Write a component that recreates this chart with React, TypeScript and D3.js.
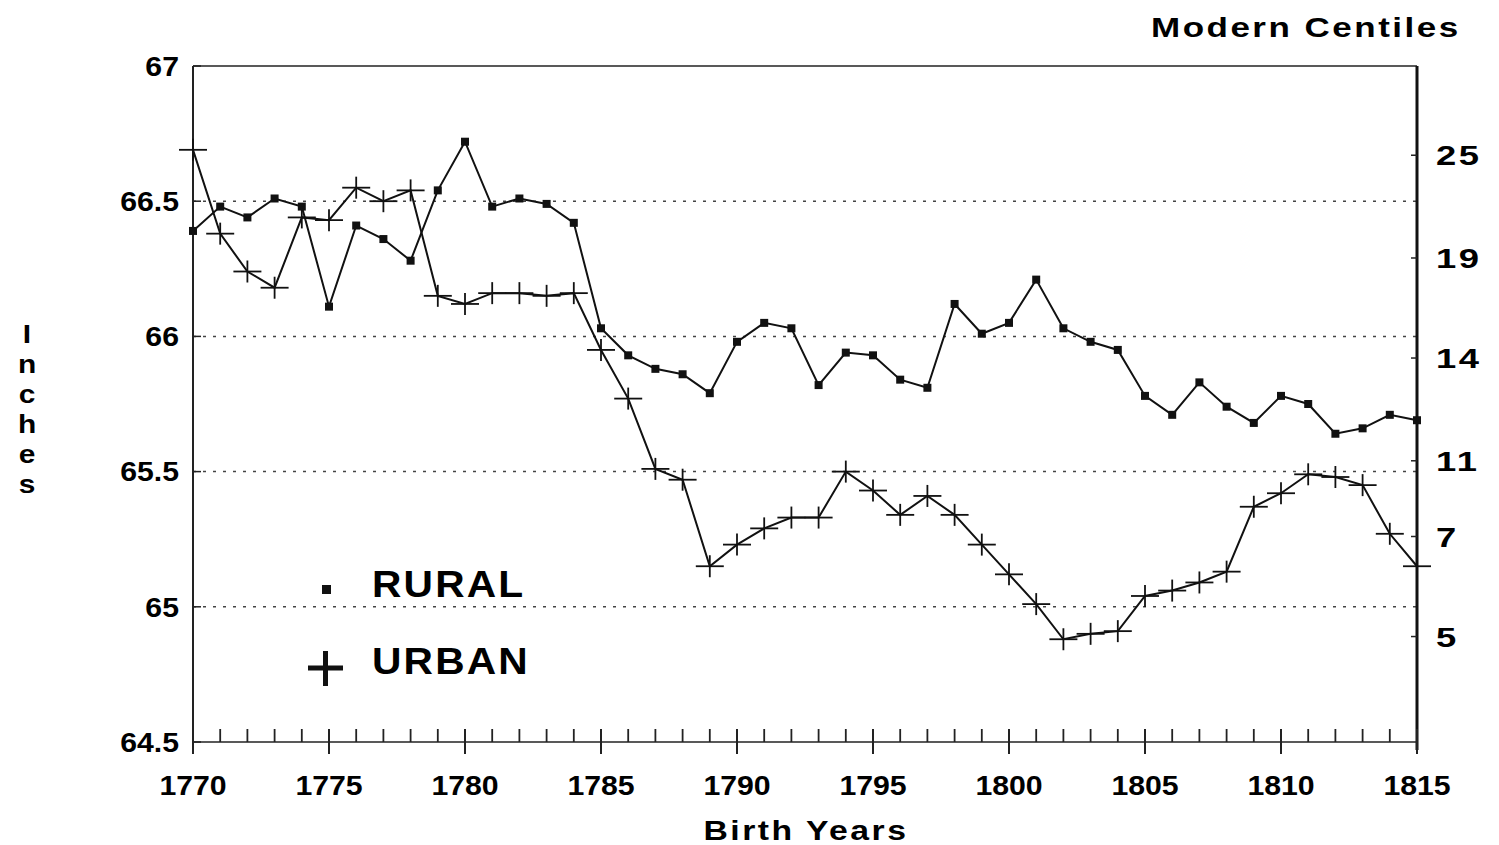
import React from 'react';
import * as d3 from 'd3';

// birth years and mean heights (inches)
const years = d3.range(1770, 1816);
const rural = [
  66.39, 66.48, 66.44, 66.51, 66.48, 66.11, 66.41, 66.36, 66.28, 66.54, 66.72, 66.48, 66.51, 66.49, 66.42,
  66.03, 65.93, 65.88, 65.86, 65.79, 65.98, 66.05, 66.03, 65.82, 65.94, 65.93, 65.84, 65.81, 66.12, 66.01,
  66.05, 66.21, 66.03, 65.98, 65.95, 65.78, 65.71, 65.83, 65.74, 65.68, 65.78, 65.75, 65.64, 65.66, 65.71, 65.69,
];
const urban = [
  66.69, 66.38, 66.24, 66.18, 66.44, 66.43, 66.55, 66.5, 66.54, 66.15, 66.12, 66.16, 66.16, 66.15, 66.16,
  65.95, 65.77, 65.51, 65.47, 65.15, 65.23, 65.29, 65.33, 65.33, 65.5, 65.43, 65.34, 65.41, 65.34, 65.23,
  65.12, 65.01, 64.88, 64.9, 64.91, 65.04, 65.06, 65.09, 65.13, 65.37, 65.42, 65.49, 65.48, 65.45, 65.27, 65.15,
];
const inchTicks = [64.5, 65, 65.5, 66, 66.5, 67];
const gridTicks = [65, 65.5, 66, 66.5];
const yearTicks = [1770, 1775, 1780, 1785, 1790, 1795, 1800, 1805, 1810, 1815];
const centileLabels = ['25', '19', '14', '11', '7', '5'];
const centileInches = [66.67, 66.29, 65.92, 65.54, 65.26, 64.89];

const W = 1499;
const H = 845;
const font = '"Liberation Sans", Arial, sans-serif';

// bold text stretched sideways, like the old plotter lettering
function Wide({ x, y, size, sx = 1.2, ls = 0, anchor = 'start', children }: any) {
  return (
    <g transform={`translate(${x},${y}) scale(${sx},1)`}>
      <text dy="0.36em" textAnchor={anchor} fontFamily={font} fontWeight="bold"
        fontSize={size} letterSpacing={ls}>{children}</text>
    </g>
  );
}

export default function App() {
  const x = d3.scaleLinear().domain([1770, 1815]).range([193, 1417]);
  const y = d3.scaleLinear().domain([64.5, 67]).range([742, 66]);
  const [x0, x1] = x.range();
  const [yb, yt] = y.range();

  const line = d3.line<number>()
    .x((_, i) => x(years[i]))
    .y(d => y(d));

  return (
    <div style={{ position: 'absolute', left: 0, top: 0 }}>
      <svg width={W} height={H} style={{ display: 'block', background: '#fff' }}>
        {/* grid */}
        {gridTicks.map(t => (
          <line key={t} x1={x0} x2={x1} y1={y(t)} y2={y(t)}
            stroke="#444" strokeWidth={1.5} strokeDasharray="3,7" />
        ))}

        {/* frame */}
        <line x1={x0} x2={x1} y1={yt} y2={yt} stroke="#222" strokeWidth={1.5} />
        <line x1={x0} x2={x0} y1={yt} y2={yb + 6} stroke="#222" strokeWidth={2} />
        <line x1={x1} x2={x1} y1={yt} y2={yb + 8} stroke="#111" strokeWidth={3} />
        <line x1={x0} x2={x1} y1={yb} y2={yb} stroke="#222" strokeWidth={1.5} />

        {/* left axis */}
        {inchTicks.map(t => (
          <g key={t}>
            <line x1={x0} x2={x0 + 8} y1={y(t)} y2={y(t)} stroke="#222" strokeWidth={1.5} />
            <Wide x={179} y={y(t)} size={27} sx={1.12} anchor="end">{t}</Wide>
          </g>
        ))}
        {'Inches'.split('').map((c, i) => (
          <Wide key={i} x={27} y={334 + i * 30} size={26} sx={1.15} anchor="middle">{c}</Wide>
        ))}

        {/* right axis: modern centiles */}
        {centileInches.map((v, i) => (
          <g key={i}>
            <line x1={x1} x2={x1 - 6} y1={y(v)} y2={y(v)} stroke="#222" strokeWidth={1.5} />
            <Wide x={1436} y={y(v)} size={28} sx={1.3} ls={2}>{centileLabels[i]}</Wide>
          </g>
        ))}
        <Wide x={1151} y={27} size={28} sx={1.25} ls={2}>Modern Centiles</Wide>

        {/* bottom axis */}
        {years.map(yr => {
          const major = yearTicks.includes(yr);
          return (
            <line key={yr} x1={x(yr)} x2={x(yr)} y1={yb - 13} y2={major ? yb + 12 : yb}
              stroke="#222" strokeWidth={major ? 2 : 1.8} />
          );
        })}
        {yearTicks.map(yr => (
          <Wide key={yr} x={x(yr)} y={785} size={28} sx={1.08} anchor="middle">{yr}</Wide>
        ))}
        <Wide x={806} y={830} size={27} sx={1.25} ls={2} anchor="middle">Birth Years</Wide>

        {/* series */}
        <path d={line(rural) ?? ''} fill="none" stroke="#111" strokeWidth={2} />
        <path d={line(urban) ?? ''} fill="none" stroke="#111" strokeWidth={2} />
        {rural.map((v, i) => (
          <rect key={'r' + i} x={x(years[i]) - 4} y={y(v) - 4} width={8} height={8} fill="#111" />
        ))}
        {urban.map((v, i) => (
          <g key={'u' + i} stroke="#111" strokeWidth={1.8}>
            <line x1={x(years[i]) - 14} x2={x(years[i]) + 14} y1={y(v)} y2={y(v)} />
            <line x1={x(years[i])} x2={x(years[i])} y1={y(v) - 11} y2={y(v) + 11} />
          </g>
        ))}

        {/* legend */}
        <rect x={322} y={585} width={9} height={9} fill="#111" />
        <Wide x={372} y={584} size={37} sx={1.1} ls={2}>RURAL</Wide>
        <g stroke="#111" strokeWidth={5}>
          <line x1={308} x2={343} y1={668} y2={668} />
          <line x1={325.5} x2={325.5} y1={651} y2={686} />
        </g>
        <Wide x={372} y={661} size={37} sx={1.1} ls={2}>URBAN</Wide>
      </svg>
    </div>
  );
}
